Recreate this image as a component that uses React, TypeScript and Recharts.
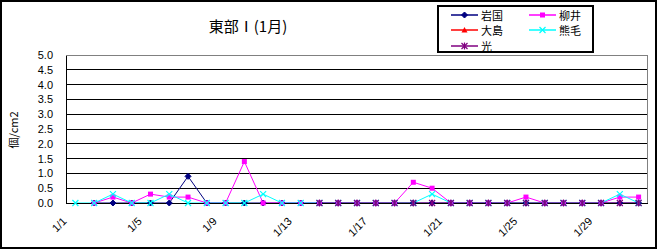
import { CartesianGrid, Line, LineChart, XAxis, YAxis } from "recharts";

const days = [
  "1/1", "1/2", "1/3", "1/4", "1/5", "1/6", "1/7", "1/8", "1/9", "1/10",
  "1/11", "1/12", "1/13", "1/14", "1/15", "1/16", "1/17", "1/18", "1/19", "1/20",
  "1/21", "1/22", "1/23", "1/24", "1/25", "1/26", "1/27", "1/28", "1/29", "1/30", "1/31",
];

// 個/cm2, null = no sample that day
const iwakuni = [null, 0, 0, 0, 0, 0, 0.9, 0, 0, 0, 0, 0, 0, 0, 0, 0, 0, 0, 0, 0, 0, 0, 0, 0, 0, 0, 0, 0, 0, 0, 0];
const yanai = [null, 0, 0.2, 0, 0.3, 0.2, 0.2, 0, 0, 1.4, 0, 0, 0, 0, 0, 0, 0, 0, 0.7, 0.5, 0, 0, 0, 0, 0.2, 0, 0, 0, 0, 0.2, 0.2];
const oshima: (number | null)[] = days.map(() => null);
const kumage = [0, 0, 0.3, 0, 0, 0.3, 0, 0, 0, 0, 0.3, 0, 0, 0, 0, 0, 0, 0, 0, 0.3, 0, 0, 0, 0, 0, 0, 0, 0, 0, 0.3, 0];
const hikari = [null, null, null, null, null, null, null, null, null, null, null, null, null, 0, 0, 0, 0, 0, 0, 0, 0, 0, 0, 0, 0, 0, 0, 0, 0, 0, 0];

const yTicks = [0, 0.5, 1, 1.5, 2, 2.5, 3, 3.5, 4, 4.5, 5];

const series = [
  { key: "iwakuni", name: "岩国", color: "#000080", shape: "diamond" },
  { key: "yanai", name: "柳井", color: "#ff00ff", shape: "square" },
  { key: "oshima", name: "大島", color: "#ff0000", shape: "triangle" },
  { key: "kumage", name: "熊毛", color: "#00ffff", shape: "x" },
  { key: "hikari", name: "光", color: "#800080", shape: "star" },
];

const data = days.map((day, i) => ({
  day,
  iwakuni: iwakuni[i],
  yanai: yanai[i],
  oshima: oshima[i],
  kumage: kumage[i],
  hikari: hikari[i],
}));

const font = "'Liberation Sans', Arial, sans-serif";
const jpFont = "'Noto Sans CJK JP', sans-serif";

function Marker({ shape, color, cx, cy }: { shape: string; color: string; cx: number; cy: number }) {
  if (shape === "diamond")
    return <polygon points={`${cx},${cy - 3} ${cx + 3},${cy} ${cx},${cy + 3} ${cx - 3},${cy}`} fill={color} stroke={color} />;
  if (shape === "square") return <rect x={cx - 2.5} y={cy - 2.5} width={5} height={5} fill={color} />;
  if (shape === "triangle")
    return <polygon points={`${cx},${cy - 3} ${cx + 3},${cy + 2.5} ${cx - 3},${cy + 2.5}`} fill={color} />;
  const x = `M${cx - 3},${cy - 3}L${cx + 3},${cy + 3}M${cx - 3},${cy + 3}L${cx + 3},${cy - 3}`;
  const d = shape === "star" ? `${x}M${cx},${cy - 3.5}L${cx},${cy + 3.5}` : x;
  return <path d={d} stroke={color} strokeWidth={1.2} fill="none" />;
}

const DayTick = ({ x, y, payload }: any) => (
  <text
    transform={`translate(${x - 8},${y + 11}) rotate(-45)`}
    textAnchor="end"
    fontSize={11}
    fontFamily={font}
    fill="#000"
  >
    {payload.value}
  </text>
);

function LegendBox() {
  const cols = [451, 529];
  const rows = [13, 28, 44];
  return (
    <div
      style={{
        position: "absolute",
        left: 437,
        top: 5,
        width: 157,
        height: 48,
        boxSizing: "border-box",
        border: "2px solid #000",
        background: "#fff",
      }}
    >
      {series.map((s, i) => {
        const left = cols[i % 2] - 437;
        const top = rows[Math.floor(i / 2)] - 5;
        return (
          <div key={s.key} style={{ position: "absolute", left: left - 2, top: top - 7, height: 14, display: "flex", alignItems: "center" }}>
            <svg width={27} height={14} style={{ display: "block" }}>
              <line x1={0} x2={27} y1={7} y2={7} stroke={s.color} strokeWidth={1.5} />
              <Marker shape={s.shape} color={s.color} cx={13.5} cy={7} />
            </svg>
            <span style={{ marginLeft: 3, fontSize: 11, fontFamily: jpFont, lineHeight: "14px", color: "#000" }}>{s.name}</span>
          </div>
        );
      })}
    </div>
  );
}

export default function App() {
  return (
    <div style={{ position: "absolute", left: 0, top: 0, width: 659, height: 249, background: "#fff" }}>
      <style>{`.recharts-cartesian-grid line, .recharts-cartesian-axis-line { shape-rendering: crispEdges; }`}</style>
      <div
        style={{
          position: "absolute",
          left: 0,
          top: 0,
          width: 657,
          height: 249,
          boxSizing: "border-box",
          border: "2px solid #000",
        }}
      />
      <div
        style={{
          position: "absolute",
          left: 248,
          top: 25,
          transform: "translate(-50%, -50%)",
          fontSize: 15,
          fontFamily: jpFont,
          whiteSpace: "nowrap",
          color: "#000",
        }}
      >
        東部Ⅰ(1月)
      </div>
      <div
        style={{
          position: "absolute",
          left: 13,
          top: 130,
          transform: "translate(-50%, -50%) rotate(-90deg)",
          fontSize: 11,
          fontFamily: jpFont,
          whiteSpace: "nowrap",
          color: "#000",
        }}
      >
        個/cm2
      </div>
      <div style={{ position: "absolute", left: 0, top: 0 }}>
        <LineChart width={659} height={249} data={data} margin={{ top: 55, right: 11, bottom: 0, left: 0 }}>
          <CartesianGrid vertical={false} stroke="#000" strokeWidth={1} />
          <XAxis
            dataKey="day"
            interval={3}
            tickLine={false}
            axisLine={{ stroke: "#000" }}
            tick={<DayTick />}
            height={46}
            padding={{ left: 9.4, right: 9.4 }}
          />
          <YAxis
            domain={[0, 5]}
            ticks={yTicks}
            interval={0}
            tickFormatter={(v: number) => v.toFixed(1)}
            tickLine={false}
            axisLine={{ stroke: "#000" }}
            width={66}
            tickMargin={7}
            tick={{ fontSize: 11, fontFamily: font, fill: "#000" }}
          />
          {series.map((s) => (
            <Line
              key={s.key}
              dataKey={s.key}
              name={s.name}
              type="linear"
              stroke={s.color}
              strokeWidth={1}
              isAnimationActive={false}
              dot={(p: any) =>
                p.cx == null || p.cy == null || p.value == null ? (
                  <g key={p.key ?? p.index} />
                ) : (
                  <Marker key={p.key ?? p.index} shape={s.shape} color={s.color} cx={p.cx} cy={p.cy} />
                )
              }
              activeDot={false}
            />
          ))}
        </LineChart>
      </div>
      <div
        style={{
          position: "absolute",
          left: 66,
          top: 55,
          width: 582,
          height: 148,
          boxSizing: "border-box",
          borderTop: "1px solid #808080",
          borderRight: "1px solid #808080",
          pointerEvents: "none",
        }}
      />
      <LegendBox />
    </div>
  );
}
